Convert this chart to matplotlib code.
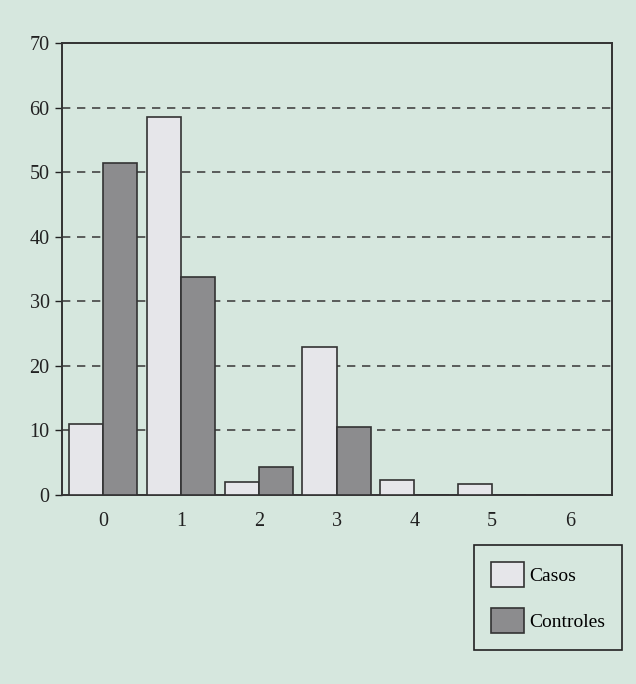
import matplotlib
matplotlib.use("Agg")
import matplotlib.pyplot as plt
import numpy as np

categories = ["0", "1", "2", "3", "4", "5", "6"]
casos = [11, 58.5, 2, 23, 2.3, 1.7, 0]
controles = [51.4, 33.7, 4.3, 10.5, 0, 0, 0]
yticks = [0, 10, 20, 30, 40, 50, 60, 70]

bg = "#d6e7de"
plt.rcParams["font.family"] = ["Liberation Serif", "DejaVu Serif"]

fig = plt.figure(figsize=(6.36, 6.84), dpi=100, facecolor=bg)
ax = fig.add_axes([0.0975, 0.2763, 0.8645, 0.6607], facecolor=bg)

x = np.arange(len(categories))
w = 0.44
ax.bar(x - w / 2, casos, width=w, color="#e6e6ea", edgecolor="#333333", linewidth=1.2, label="Casos", zorder=3)
ax.bar(x + w / 2, controles, width=w, color="#8c8c8e", edgecolor="#333333", linewidth=1.2, label="Controles", zorder=3)

ax.set_xlim(-0.53, 6.54)
ax.set_ylim(0, 70)
ax.set_yticks(yticks)
ax.set_xticks(x)
ax.set_xticklabels(categories)
ax.tick_params(axis="x", length=0, pad=12, labelsize=14.5, colors="#222222")
ax.tick_params(axis="y", length=5, width=1, pad=4, labelsize=14.5, colors="#222222")
for yv in yticks[1:-1]:
    ax.axhline(yv, color="#444444", linestyle=(0, (5, 4)), linewidth=1.2, zorder=1)
for s in ax.spines.values():
    s.set_linewidth(1.4)
    s.set_color("#333333")

leg = ax.legend(loc="lower right", bbox_to_anchor=(0.978, 0.05), bbox_transform=fig.transFigure,
                borderaxespad=0, fontsize=14, frameon=True, fancybox=False, edgecolor="#222222",
                facecolor=bg, framealpha=1, handlelength=1.7, handleheight=1.6,
                labelspacing=1.1, borderpad=0.85, handletextpad=0.3)
leg.get_frame().set_linewidth(1.2)

fig.savefig("out.png", dpi=100, facecolor=bg)
